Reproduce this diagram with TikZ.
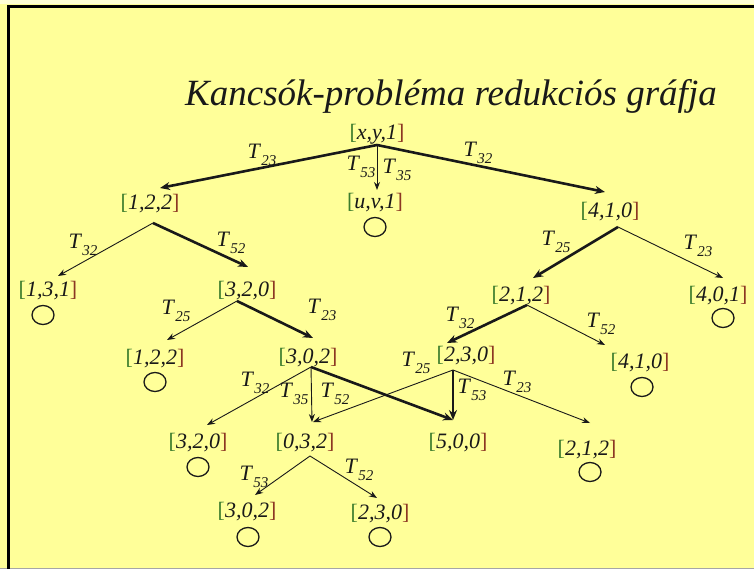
\documentclass[tikz,border=0pt]{standalone}
\usepackage{fontspec}
\setmainfont{Liberation Serif}[ItalicFont={Liberation Serif Italic}]
\usetikzlibrary{arrows.meta,calc,shapes.geometric}
\definecolor{bg}{RGB}{255,255,153}
\definecolor{brg}{RGB}{60,125,45}
\definecolor{brr}{RGB}{140,55,35}
\definecolor{ink}{RGB}{25,25,25}
\newcommand{\st}[1]{{\color{brg}[}\textit{#1}{\color{brr}]}}
\newcommand{\tl}[1]{\textit{T}\raisebox{-0.33em}{\fontsize{15}{15}\selectfont\textit{#1}}}
\tikzset{
  stt/.style={inner sep=0pt, text=ink, font=\fontsize{22}{24}\selectfont},
  lab/.style={inner sep=0pt, text=ink, font=\fontsize{22}{24}\selectfont},
  leaf/.style={draw=ink, line width=1.3pt, ellipse, minimum width=22pt, minimum height=19pt, inner sep=0pt},
  thinarr/.style={draw=ink, line width=0.9pt, -{Stealth[length=8pt,width=6pt]}},
  thickarr/.style={draw=ink, line width=2.6pt, -{Stealth[length=10pt,width=8pt]}},
}
\begin{document}
\begin{tikzpicture}[x=1pt,y=-1pt]
\useasboundingbox (0,0) rectangle (754,569);
\fill[bg] (0,0) rectangle (754,569);
\fill[bg!40!white] (0,0) rectangle (754,4);
\draw[gray!70, line width=1pt] (0,568) -- (754,568);
\draw[black, line width=3pt] (8.5,569) -- (8.5,6.5) -- (754,6.5);

\node[anchor=base, text=ink, font=\fontsize{37}{40}\selectfont\itshape] (title) at (451,106) {Kancsók-probléma redukciós gráfja};

% states
\node[stt] (xy1) at (377,134) {\st{x,y,1}};
\node[stt] (uv1) at (375,203) {\st{u,v,1}};
\node[stt] (a122) at (150,204) {\st{1,2,2}};
\node[stt] (a410) at (610,212) {\st{4,1,0}};
\node[stt] (a131) at (48,291) {\st{1,3,1}};
\node[stt] (a320) at (247,291) {\st{3,2,0}};
\node[stt] (a212) at (521,296) {\st{2,1,2}};
\node[stt] (a401) at (718,296) {\st{4,0,1}};
\node[stt] (b122) at (155,359) {\st{1,2,2}};
\node[stt] (a302) at (308,358) {\st{3,0,2}};
\node[stt] (a230) at (466,356) {\st{2,3,0}};
\node[stt] (b410) at (640,363) {\st{4,1,0}};
\node[stt] (b320) at (198,443) {\st{3,2,0}};
\node[stt] (a032) at (305,443) {\st{0,3,2}};
\node[stt] (a500) at (458,443) {\st{5,0,0}};
\node[stt] (b212) at (587,450) {\st{2,1,2}};
\node[stt] (b302) at (247,512) {\st{3,0,2}};
\node[stt] (b230) at (380,514) {\st{2,3,0}};

% leaves
\node[leaf] (c1) at (375,227) {};
\node[leaf] (c2) at (43,315) {};
\node[leaf] (c3) at (155,382) {};
\node[leaf] (c4) at (723,318) {};
\node[leaf] (c5) at (642,387) {};
\node[leaf] (c6) at (198,467) {};
\node[leaf] (c7) at (590,472) {};
\node[leaf] (c8) at (248,537) {};
\node[leaf] (c9) at (380,537) {};

% edges
\draw[thickarr] ($(xy1)+(0,11)$) -- ($(a122)+(10,-16)$);
\draw[thickarr] ($(xy1)+(0,11)$) -- ($(a410)+(-5,-20)$);
\draw[thinarr] ($(xy1)+(0,11)$) -- ($(uv1)+(2,-13)$);
\draw[thinarr] ($(a122)+(3,19)$) -- ($(a131)+(10,-15)$);
\draw[thickarr] ($(a122)+(3,19)$) -- ($(a320)+(1,-24)$);
\draw[thickarr] ($(a410)+(8,15)$) -- ($(a212)+(12,-18)$);
\draw[thinarr] ($(a410)+(8,15)$) -- ($(a401)+(5,-18)$);
\draw[thinarr] ($(a320)+(-10,10)$) -- ($(b122)+(12,-19)$);
\draw[thickarr] ($(a320)+(-10,10)$) -- ($(a302)+(5,-20)$);
\draw[thickarr] ($(a212)+(6,9)$) -- ($(a230)+(-19,-13)$);
\draw[thinarr] ($(a212)+(6,9)$) -- ($(b410)+(-35,-18)$);
\draw[thinarr] ($(a302)+(3,9)$) -- ($(b320)+(9,-18)$);
\draw[thinarr] ($(a302)+(3,9)$) -- ($(a032)+(7,-21)$);
\draw[thickarr] ($(a302)+(3,9)$) -- ($(a500)+(-5,-23)$);
\draw[thinarr] ($(a230)+(-13,14)$) -- ($(a032)+(8,-21)$);
\draw[thickarr] ($(a230)+(-13,14)$) -- ($(a500)+(-5,-23)$);
\draw[thinarr] ($(a230)+(-13,14)$) -- ($(b212)+(3,-27)$);
\draw[thinarr] ($(a032)+(5,13)$) -- ($(b302)+(8,-17)$);
\draw[thinarr] ($(a032)+(5,13)$) -- ($(b230)+(-3,-16)$);

% labels
\node[lab] (l1) at (262,155) {\tl{23}};
\node[lab] (l2) at (361,167) {\tl{53}};
\node[lab] (l3) at (397,170) {\tl{35}};
\node[lab] (l4) at (478,153) {\tl{32}};
\node[lab] (l5) at (83,245) {\tl{32}};
\node[lab] (l6) at (231,243) {\tl{52}};
\node[lab] (l7) at (556,242) {\tl{25}};
\node[lab] (l8) at (698,246) {\tl{23}};
\node[lab] (l9) at (176,311) {\tl{25}};
\node[lab] (l10) at (322,310) {\tl{23}};
\node[lab] (l11) at (460,318) {\tl{32}};
\node[lab] (l12) at (601,324) {\tl{52}};
\node[lab] (l13) at (416,363) {\tl{25}};
\node[lab] (l14) at (517,382) {\tl{23}};
\node[lab] (l15) at (472,390) {\tl{53}};
\node[lab] (l16) at (255,383) {\tl{32}};
\node[lab] (l17) at (294,394) {\tl{35}};
\node[lab] (l18) at (335,394) {\tl{52}};
\node[lab] (l19) at (254,477) {\tl{53}};
\node[lab] (l20) at (359,470) {\tl{52}};
\end{tikzpicture}
\end{document}
